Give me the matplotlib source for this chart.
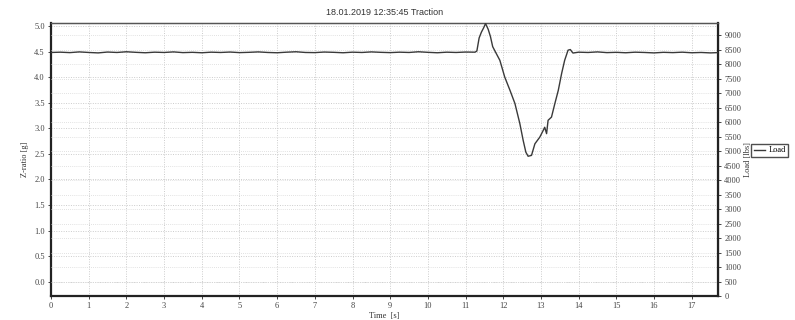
import matplotlib
matplotlib.use("Agg")
import matplotlib.pyplot as plt
from matplotlib.ticker import MultipleLocator, FormatStrFormatter

# Time samples [s] and load readings [lbs]
time_s = [
    0.0, 0.25, 0.5, 0.75, 1.0, 1.25, 1.5, 1.75, 2.0, 2.25, 2.5, 2.75, 3.0, 3.25,
    3.5, 3.75, 4.0, 4.25, 4.5, 4.75, 5.0, 5.25, 5.5, 5.75, 6.0, 6.25, 6.5, 6.75,
    7.0, 7.25, 7.5, 7.75, 8.0, 8.25, 8.5, 8.75, 9.0, 9.25, 9.5, 9.75, 10.0,
    10.25, 10.5, 10.75, 11.0, 11.25,
    11.30, 11.36, 11.42, 11.48, 11.53, 11.60, 11.66, 11.72, 11.80, 11.91, 12.04,
    12.18, 12.31, 12.44, 12.53, 12.60, 12.66, 12.75, 12.84, 12.97, 13.06, 13.10,
    13.15, 13.19, 13.28, 13.37, 13.46, 13.55, 13.63, 13.72, 13.78, 13.85,
    14.0, 14.25, 14.5, 14.75, 15.0, 15.25, 15.5, 15.75, 16.0, 16.25, 16.5,
    16.75, 17.0, 17.25, 17.5, 17.69,
]
load_lbs = [
    8400, 8410, 8395, 8420, 8400, 8385, 8415, 8400, 8425, 8405, 8390, 8410,
    8400, 8420, 8395, 8405, 8390, 8410, 8400, 8415, 8395, 8405, 8420, 8400,
    8390, 8410, 8425, 8400, 8395, 8415, 8405, 8390, 8410, 8400, 8420, 8405,
    8395, 8410, 8400, 8425, 8405, 8390, 8410, 8400, 8415, 8410,
    8450, 8900, 9100, 9250, 9400, 9200, 8950, 8600, 8400, 8130, 7550,
    7090, 6640, 5950, 5360, 4960, 4820, 4850, 5250, 5480, 5710, 5820,
    5600, 6060, 6170, 6640, 7090, 7680, 8130, 8480, 8500, 8380,
    8410, 8400, 8420, 8395, 8405, 8390, 8410, 8400, 8385, 8405, 8395,
    8410, 8390, 8400, 8385, 8395,
]

title = "18.01.2019 12:35:45 Traction"
x_label = "Time  [s]"
left_label = "Z-ratio [g]"
right_label = "Load [lbs]"
series_name = "Load"

serif = ["Liberation Serif", "DejaVu Serif"]
sans = ["Liberation Sans", "DejaVu Sans"]

fig = plt.figure(figsize=(7.95, 3.2), dpi=100)
ax = fig.add_axes([0.0642, 0.075, 0.839, 0.853])
ax2 = ax.twinx()

grid_kw = dict(color="#cccccc", linestyle=(0, (1, 1.5)), linewidth=0.7)

# Left axis: acceleration ratio scale
ax.set_xlim(0, 17.7)
ax.set_ylim(-0.28, 5.06)
ax.xaxis.set_major_locator(MultipleLocator(1))
ax.yaxis.set_major_locator(MultipleLocator(0.5))
ax.yaxis.set_major_formatter(FormatStrFormatter("%.1f"))
ax.grid(True, which="major", axis="both", **grid_kw)

# Right axis: load scale carrying the trace
ax2.set_ylim(0, 9415)
ax2.yaxis.set_major_locator(MultipleLocator(500))
ax2.grid(True, axis="y", color="#d8d8d8", linestyle=(0, (1, 1.5)), linewidth=0.6)
line, = ax2.plot(time_s, load_lbs, color="#3a3a3a", linewidth=1.0,
                 label=series_name, zorder=5)

for a in (ax, ax2):
    a.tick_params(labelsize=6, length=2.5, width=0.7, pad=2, colors="#444444")
    for lab in a.get_xticklabels() + a.get_yticklabels():
        lab.set_family(serif)

for side in ("left", "bottom"):
    ax.spines[side].set_linewidth(1.6)
    ax.spines[side].set_color("#222222")
ax2.spines["right"].set_linewidth(1.6)
ax2.spines["right"].set_color("#222222")
for a in (ax, ax2):
    a.spines["top"].set_linewidth(0.9)
    a.spines["top"].set_color("#555555")
ax2.spines["left"].set_visible(False)
ax2.spines["bottom"].set_visible(False)

ax.set_title(title, fontsize=6.5, family=sans, color="#333333", pad=6)
ax.set_xlabel(x_label, fontsize=6, family=serif, color="#333333", labelpad=1)
ax.set_ylabel(left_label, fontsize=6, family=serif, color="#333333", labelpad=4)
ax2.set_ylabel(right_label, fontsize=6, family=serif, color="#333333", labelpad=2)

leg = fig.legend(handles=[line], loc="upper left",
                 bbox_to_anchor=(751 / 795, 1 - 144 / 320),
                 prop={"family": serif, "size": 6}, frameon=True,
                 fancybox=False, handlelength=1.4, handletextpad=0.4,
                 borderpad=0.3, borderaxespad=0)
leg.get_frame().set_edgecolor("#222222")
leg.get_frame().set_linewidth(1.0)

fig.savefig("out.png", dpi=100)
